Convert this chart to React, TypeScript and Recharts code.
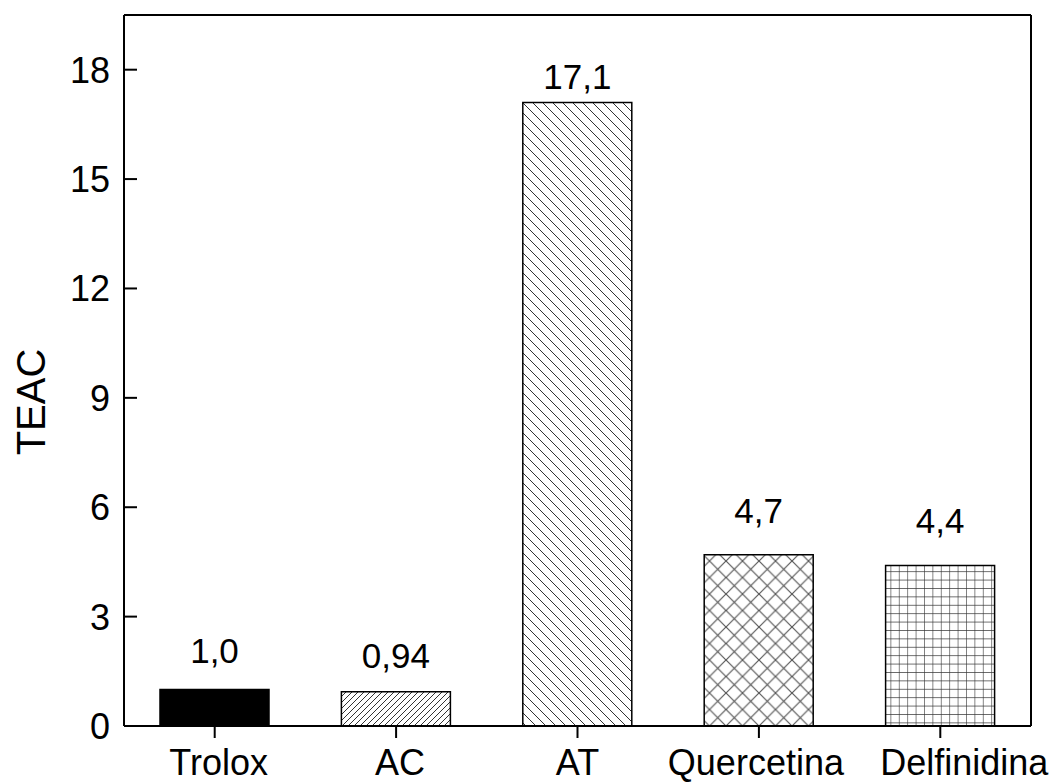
import { Bar, BarChart, Cell, LabelList, Label, XAxis, YAxis } from "recharts";

const categories = ["Trolox", "AC", "AT", "Quercetina", "Delfinidina"];
const teac = [1.0, 0.94, 17.1, 4.7, 4.4];
const valueLabels = ["1,0", "0,94", "17,1", "4,7", "4,4"];
const yTicks = [0, 3, 6, 9, 12, 15, 18];

// gap in px between each bar top and its value label (the original is not uniform)
const labelGaps = [27, 24, 14, 32, 33];
// horizontal nudges of the category names, as in the original
const catShiftX = [4, 4, 0, -3, 24];
const fills = ["#000", "url(#hatchFwd)", "url(#hatchBack)", "url(#hatchCross)", "url(#hatchGrid)"];

const data = categories.map((name, i) => ({ name, teac: teac[i], label: valueLabels[i] }));

const FONT = "'Liberation Sans', Arial, sans-serif";

function YTick({ x, y, payload }: any) {
  return (
    <g>
      <line x1={x} x2={x + 13} y1={y} y2={y} stroke="#000" strokeWidth={2} />
      <text x={x - 14} y={y} dy="0.36em" textAnchor="end" fontSize={36} fontFamily={FONT} fill="#000">
        {payload.value}
      </text>
    </g>
  );
}

function XTick({ x, y, payload }: any) {
  const i = categories.indexOf(payload.value);
  return (
    <text x={x + catShiftX[i]} y={y} dy="0.71em" textAnchor="middle" fontSize={36} fontFamily={FONT} fill="#000">
      {payload.value}
    </text>
  );
}

function ValueLabel({ x, y, width, value }: any) {
  const i = valueLabels.indexOf(value);
  return (
    <text x={x + width / 2} y={y - labelGaps[i]} textAnchor="middle" fontSize={35} fontFamily={FONT} fill="#000">
      {value}
    </text>
  );
}

export default function App() {
  return (
    <div style={{ position: "absolute", left: 0, top: 0, background: "#fff" }}>
      <BarChart
        width={1062}
        height={783}
        data={data}
        margin={{ top: 14, right: 30, bottom: 0, left: 0 }}
        style={{ fontFamily: FONT }}
      >
        <defs>
          <pattern id="hatchFwd" patternUnits="userSpaceOnUse" width={6} height={6}>
            <path d="M0,6 L6,0 M-1.5,1.5 L1.5,-1.5 M4.5,7.5 L7.5,4.5" stroke="#333" strokeWidth={1} />
          </pattern>
          <pattern id="hatchBack" patternUnits="userSpaceOnUse" width={10} height={10}>
            <path d="M0,0 L10,10 M-2.5,7.5 L2.5,12.5 M7.5,-2.5 L12.5,2.5" stroke="#333" strokeWidth={1} />
          </pattern>
          <pattern id="hatchCross" patternUnits="userSpaceOnUse" width={16.5} height={16.5}>
            <path d="M0,0 L16.5,16.5 M0,16.5 L16.5,0" stroke="#555" strokeWidth={1.2} />
          </pattern>
          <pattern id="hatchGrid" patternUnits="userSpaceOnUse" width={8.4} height={8.4}>
            <path d="M0,0 L8.4,0 M0,0 L0,8.4" stroke="#333" strokeWidth={1.2} />
          </pattern>
        </defs>
        <XAxis
          dataKey="name"
          height={57}
          tickSize={12}
          tickMargin={11}
          axisLine={{ stroke: "#000", strokeWidth: 2 }}
          tickLine={{ stroke: "#000", strokeWidth: 2 }}
          tick={<XTick />}
          interval={0}
        />
        <XAxis
          xAxisId="top"
          orientation="top"
          dataKey="name"
          height={1}
          tick={false}
          tickLine={false}
          axisLine={{ stroke: "#000", strokeWidth: 2 }}
        />
        <YAxis
          width={124}
          domain={[0, 19.5]}
          ticks={yTicks}
          tickSize={0}
          tickMargin={0}
          tickLine={false}
          axisLine={{ stroke: "#000", strokeWidth: 2 }}
          tick={<YTick />}
          allowDataOverflow
        >
          <Label
            content={() => (
              <text
                transform="translate(45,402) rotate(-90)"
                textAnchor="middle"
                fontSize={40}
                fontFamily={FONT}
                fill="#000"
              >
                TEAC
              </text>
            )}
          />
        </YAxis>
        <YAxis
          yAxisId="right"
          orientation="right"
          width={1}
          domain={[0, 19.5]}
          tick={false}
          tickLine={false}
          axisLine={{ stroke: "#000", strokeWidth: 2 }}
        />
        <Bar dataKey="teac" barSize={109} stroke="#000" strokeWidth={1.5} isAnimationActive={false}>
          {data.map((d, i) => (
            <Cell key={d.name} fill={fills[i]} />
          ))}
          <LabelList dataKey="label" content={<ValueLabel />} />
        </Bar>
      </BarChart>
    </div>
  );
}
